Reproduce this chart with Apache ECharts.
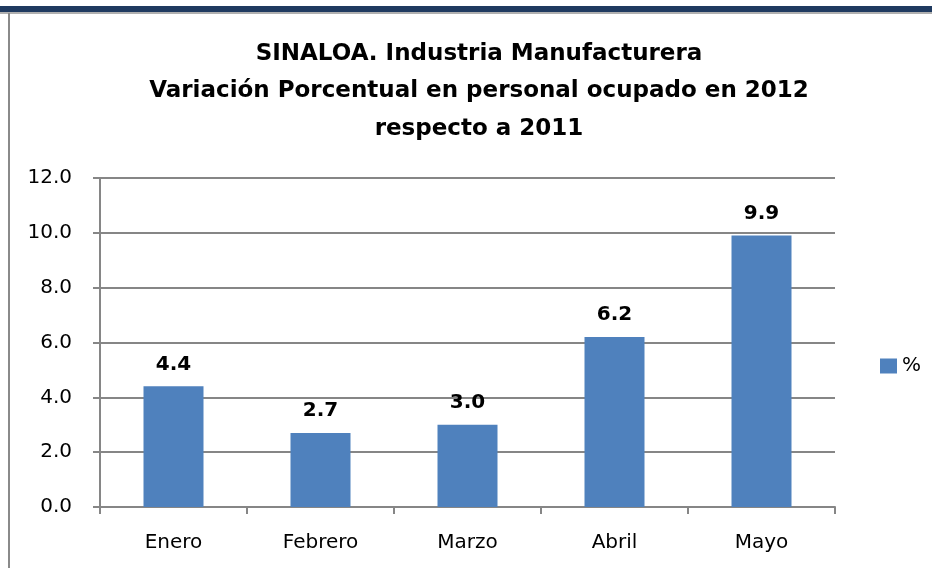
<!DOCTYPE html>
<html>
<head>
<meta charset="utf-8">
<script src="https://cdn.jsdelivr.net/npm/echarts@6/dist/echarts.min.js"></script>
<style>
  html, body { margin: 0; padding: 0; background: #fff; }
  #chart { width: 932px; height: 568px; }
</style>
</head>
<body>
<div id="chart"></div>
<script>
// datos
const meses = ['Enero', 'Febrero', 'Marzo', 'Abril', 'Mayo']
const variacion = [4.4, 2.7, 3.0, 6.2, 9.9]
const serieNombre = '%'
const titulo = 'SINALOA. Industria Manufacturera\nVariación Porcentual en personal ocupado en 2012\nrespecto a 2011'

const chart = echarts.init(document.getElementById('chart'))
const fuente = '"DejaVu Sans", sans-serif'

chart.setOption({
  backgroundColor: '#fff',
  animation: false,
  textStyle: { fontFamily: fuente },
  title: {
    text: titulo,
    left: 474,
    textAlign: 'center',
    top: 30,
    textStyle: {
      fontFamily: fuente,
      fontSize: 23,
      fontWeight: 'bold',
      color: '#000',
      lineHeight: 37.5
    }
  },
  legend: {
    data: [serieNombre],
    orient: 'vertical',
    left: 875,
    top: 351,
    icon: 'rect',
    itemWidth: 17,
    itemHeight: 15,
    itemGap: 6,
    textStyle: { fontSize: 20, color: '#000' }
  },
  grid: {
    left: 100,
    right: 97,
    top: 178,
    bottom: 61
  },
  xAxis: {
    type: 'category',
    data: meses,
    axisLine: { lineStyle: { color: '#868686', width: 2 } },
    axisTick: { show: true, length: 7, lineStyle: { color: '#868686', width: 2 } },
    axisLabel: { color: '#000', fontSize: 20, margin: 26 }
  },
  yAxis: {
    type: 'value',
    min: 0,
    max: 12,
    interval: 2,
    axisLine: { show: true, lineStyle: { color: '#868686', width: 2 } },
    axisTick: { show: true, length: 7, lineStyle: { color: '#868686', width: 2 } },
    splitLine: { lineStyle: { color: '#868686', width: 2 } },
    axisLabel: {
      color: '#000',
      fontSize: 20,
      margin: 28,
      formatter: (v) => v.toFixed(1)
    }
  },
  series: [
    {
      name: serieNombre,
      type: 'bar',
      data: variacion,
      barWidth: 60,
      itemStyle: { color: '#4f81bd' },
      label: {
        show: true,
        position: 'top',
        distance: 12,
        fontSize: 20,
        fontWeight: 'bold',
        color: '#000',
        formatter: (p) => p.value.toFixed(1)
      }
    }
  ],
  graphic: [
    { type: 'rect', shape: { x: 0, y: 6, width: 932, height: 6 }, style: { fill: '#1f3a60' } },
    { type: 'rect', shape: { x: 0, y: 12, width: 932, height: 2 }, style: { fill: '#b0b0b0' } },
    { type: 'rect', shape: { x: 8, y: 13, width: 2, height: 555 }, style: { fill: '#8a8a8a' } }
  ]
})
</script>
</body>
</html>
